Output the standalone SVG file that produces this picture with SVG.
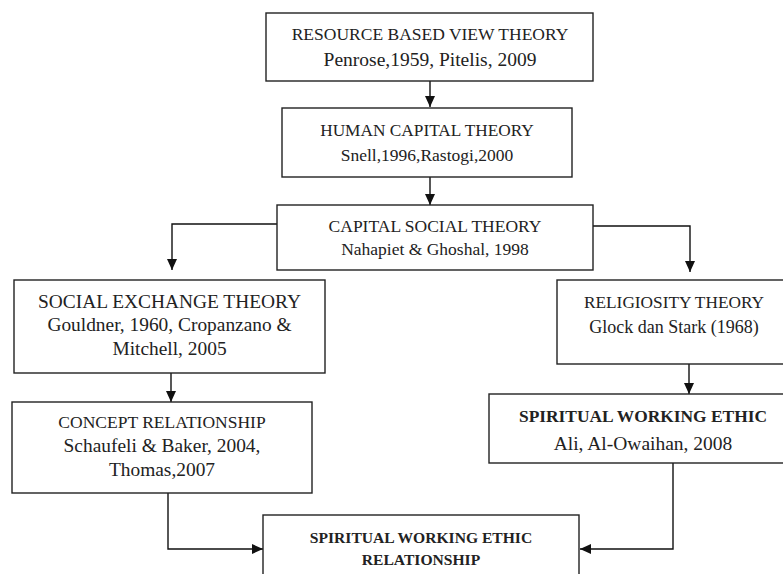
<svg xmlns="http://www.w3.org/2000/svg" width="783" height="574" viewBox="0 0 783 574">
<style>
.box{fill:#fff;stroke:#222;stroke-width:1.4}
.t{font-family:"Liberation Serif","Times New Roman",serif;fill:#222;text-anchor:middle}
.b{font-weight:bold}
.conn{fill:none;stroke:#111;stroke-width:1.4}
</style>
<defs>
<marker id="ah" markerUnits="userSpaceOnUse" markerWidth="11" markerHeight="10" refX="11" refY="5" orient="auto">
<path d="M0,0 L11,5 L0,10 z" fill="#111"/>
</marker>
</defs>
<rect width="783" height="574" fill="#fff"/>
<g id="connectors">
<line class="conn" x1="430" y1="81" x2="430" y2="107" marker-end="url(#ah)"/>
<line class="conn" x1="430" y1="177" x2="430" y2="205" marker-end="url(#ah)"/>
<polyline class="conn" points="277,224 172,224 172,270" marker-end="url(#ah)"/>
<polyline class="conn" points="593,226 690,226 690,272" marker-end="url(#ah)"/>
<line class="conn" x1="171" y1="373" x2="171" y2="402" marker-end="url(#ah)"/>
<line class="conn" x1="689" y1="364" x2="689" y2="394" marker-end="url(#ah)"/>
<polyline class="conn" points="168,493 168,549 263,549" marker-end="url(#ah)"/>
<polyline class="conn" points="673,463 673,549 580,549" marker-end="url(#ah)"/>
</g>
<g id="rbv">
<rect class="box" x="266" y="13" width="327" height="68"/>
<text class="t" x="430" y="40" font-size="17.5">RESOURCE BASED VIEW THEORY</text>
<text class="t" x="430" y="66" font-size="19.5">Penrose,1959, Pitelis, 2009</text>
</g>
<g id="hct">
<rect class="box" x="282" y="108" width="290" height="69"/>
<text class="t" x="427" y="136" font-size="17.3">HUMAN CAPITAL THEORY</text>
<text class="t" x="427" y="161" font-size="17.5">Snell,1996,Rastogi,2000</text>
</g>
<g id="cst">
<rect class="box" x="277" y="205" width="316" height="65"/>
<text class="t" x="435" y="232" font-size="17.5">CAPITAL SOCIAL THEORY</text>
<text class="t" x="435" y="255" font-size="17.5">Nahapiet &amp; Ghoshal, 1998</text>
</g>
<g id="set">
<rect class="box" x="14" y="280" width="311" height="93"/>
<text class="t" x="169.5" y="308" font-size="19.4">SOCIAL EXCHANGE THEORY</text>
<text class="t" x="169.5" y="331" font-size="19.4">Gouldner, 1960, Cropanzano &amp;</text>
<text class="t" x="169.5" y="355" font-size="19.4">Mitchell, 2005</text>
</g>
<g id="rt">
<rect class="box" x="557" y="280" width="240" height="84"/>
<text class="t" x="674" y="308" font-size="17.3">RELIGIOSITY THEORY</text>
<text class="t" x="674" y="333" font-size="18">Glock dan Stark (1968)</text>
</g>
<g id="cr">
<rect class="box" x="12" y="402" width="300" height="91"/>
<text class="t" x="162" y="428" font-size="17.5">CONCEPT RELATIONSHIP</text>
<text class="t" x="162" y="452" font-size="19.4">Schaufeli &amp; Baker, 2004,</text>
<text class="t" x="162" y="476" font-size="19.4">Thomas,2007</text>
</g>
<g id="swe">
<rect class="box" x="489" y="394" width="310" height="69"/>
<text class="t b" x="643" y="422" font-size="17.4">SPIRITUAL WORKING ETHIC</text>
<text class="t" x="643" y="450" font-size="19.5">Ali, Al-Owaihan, 2008</text>
</g>
<g id="swer">
<rect class="box" x="263" y="515" width="316" height="80"/>
<text class="t b" x="421" y="543" font-size="15.6">SPIRITUAL WORKING ETHIC</text>
<text class="t b" x="421" y="565" font-size="15.6">RELATIONSHIP</text>
</g>
</svg>
